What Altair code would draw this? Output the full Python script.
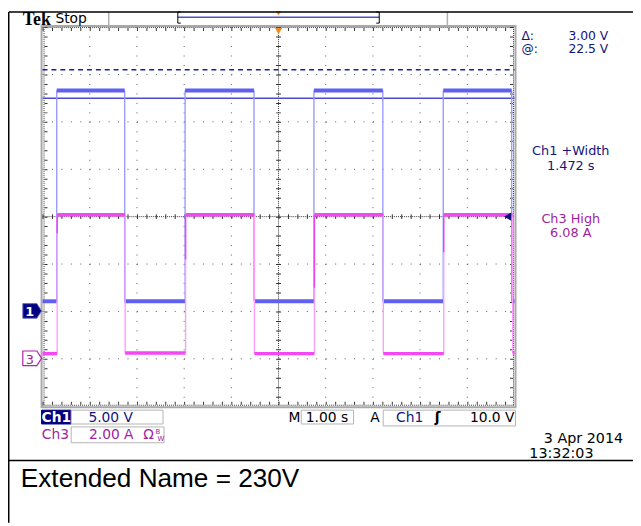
import altair as alt
import pandas as pd

# ---------------- data ----------------
# time axis: 1.00 s/div, 10 divisions, trigger at centre (seconds)
ch1_edges = [-4.70, -3.26, -1.98, -0.52, 0.75, 2.21, 3.49, 4.94]
ch1_levels = [1.07, 23.3, 1.07, 23.3, 1.07, 23.3, 1.07, 23.3, 1.07]   # volts
ch3_edges = [-4.69, -3.25, -1.97, -0.51, 0.76, 2.22, 3.50, 4.96]
ch3_levels = [0.22, 6.08, 0.25, 6.08, 0.22, 6.08, 0.22, 6.08, 0.25]  # amps
ch3_rise_knee = [5.3, 4.2, 3.0, 4.5]                                   # amps
cursor_volts = [22.5, 25.5]       # @: 22.5 V, delta 3.00 V
trigger_volts = 10.0
ch1_scale, ch1_offset_div = 5.0, -2.0   # 5.00 V/div, ground marker 2 div below centre
ch3_scale, ch3_offset_div = 2.0, -3.0   # 2.00 A/div, ground marker 3 div below centre
vgrid = [-4, -3, -2, -1, 1, 2, 3, 4]
hgrid = [-3, -2, -1, 1, 2, 3]

W, H = 633, 518
def P(v):
    # page pixel -> chart pixel (page has an 8px margin)
    return max(v - 8, 0.75)

X = alt.Scale(domain=[-5, 5], range=[P(43), P(521)], nice=False, zero=False)
Y = alt.Scale(domain=[-4, 4], range=[P(408), P(24)], nice=False, zero=False)

one = alt.Data(values=[{}])
layers = []

def txt(s, x, y, size=14, color="black", font="DejaVu Sans", weight="normal", align="left"):
    return alt.Chart(one).mark_text(text=s, fontSize=size, color=color, font=font,
                                    fontWeight=weight, align=align, baseline="alphabetic"
                                    ).encode(x=alt.value(P(x)), y=alt.value(P(y)))

def hline(x1, x2, y, color="black", width=1.0, dash=None):
    kw = dict(color=color, strokeWidth=width)
    if dash:
        kw["strokeDash"] = dash
    return alt.Chart(one).mark_rule(**kw).encode(x=alt.value(P(x1)), x2=alt.value(P(x2)), y=alt.value(P(y)))

def vline(x, y1, y2, color="black", width=1.0, dash=None):
    kw = dict(color=color, strokeWidth=width)
    if dash:
        kw["strokeDash"] = dash
    return alt.Chart(one).mark_rule(**kw).encode(x=alt.value(P(x)), y=alt.value(P(y1)), y2=alt.value(P(y2)))

def box(x1, x2, y1, y2, fill="white", stroke="#b4b4b4", sw=1.0):
    return alt.Chart(one).mark_rect(fill=fill, stroke=stroke, strokeWidth=sw).encode(
        x=alt.value(P(x1)), x2=alt.value(P(x2)), y=alt.value(P(y1)), y2=alt.value(P(y2)))

# ---------------- scope frame & graticule ----------------
layers.append(box(42, 522, 23, 409, fill="white", stroke="#a8a8a8", sw=2))

vg = pd.DataFrame({"t": vgrid})
layers.append(alt.Chart(vg).mark_rule(color="#555555", strokeWidth=1, strokeDash=[1, 8.6]).encode(
    x=alt.X("t:Q", scale=X, axis=None), y=alt.value(P(24)), y2=alt.value(P(408))))
hg = pd.DataFrame({"d": hgrid})
layers.append(alt.Chart(hg).mark_rule(color="#555555", strokeWidth=1, strokeDash=[1, 8.56]).encode(
    y=alt.Y("d:Q", scale=Y, axis=None), x=alt.value(P(43)), x2=alt.value(P(521))))

cz = pd.DataFrame({"z": [0]})
# centre cross: dense dots + minor ticks
layers.append(alt.Chart(cz).mark_rule(color="#333333", strokeWidth=1, strokeDash=[1, 1]).encode(
    x=alt.X("z:Q", scale=X, axis=None), y=alt.value(P(24)), y2=alt.value(P(408))))
layers.append(alt.Chart(cz).mark_rule(color="#333333", strokeWidth=5, strokeDash=[1, 8.6]).encode(
    x=alt.X("z:Q", scale=X, axis=None), y=alt.value(P(24)), y2=alt.value(P(408))))
layers.append(alt.Chart(cz).mark_rule(color="#333333", strokeWidth=1, strokeDash=[1, 1]).encode(
    y=alt.Y("z:Q", scale=Y, axis=None), x=alt.value(P(43)), x2=alt.value(P(521))))
layers.append(alt.Chart(cz).mark_rule(color="#333333", strokeWidth=5, strokeDash=[1, 8.56]).encode(
    y=alt.Y("z:Q", scale=Y, axis=None), x=alt.value(P(43)), x2=alt.value(P(521))))

# border ticks
layers.append(hline(43, 521, 24.5, "#333333", 1, [1, 1]))
layers.append(hline(43, 521, 26.5, "#333333", 3, [1, 8.56]))
layers.append(hline(43, 521, 407, "#333333", 1, [1, 1]))
layers.append(hline(43, 521, 405, "#333333", 3, [1, 8.56]))
layers.append(vline(44.5, 24, 408, "#333333", 1, [1, 1]))
layers.append(vline(46.5, 24, 408, "#333333", 3, [1, 8.6]))
layers.append(vline(520, 24, 408, "#333333", 1, [1, 1]))
layers.append(vline(518, 24, 408, "#333333", 3, [1, 8.6]))

# ---------------- cursors ----------------
cur = pd.DataFrame({"v": cursor_volts, "k": ["solid", "dash"]})
cur_calc = alt.Chart(cur).transform_calculate(d=f"datum.v/{ch1_scale} + ({ch1_offset_div})")
layers.append(cur_calc.transform_filter("datum.k == 'solid'").mark_rule(color="#4a4ad2", strokeWidth=1.5).encode(
    y=alt.Y("d:Q", scale=Y, axis=None), x=alt.value(P(43)), x2=alt.value(P(521))))
layers.append(cur_calc.transform_filter("datum.k == 'dash'").mark_rule(color="#1c1ca8", strokeWidth=1.5, strokeDash=[5, 4]).encode(
    y=alt.Y("d:Q", scale=Y, axis=None), x=alt.value(P(43)), x2=alt.value(P(521))))

# ---------------- traces ----------------
def segments(edges, levels):
    bounds = [-5.0] + list(edges) + [5.0]
    lv = pd.DataFrame({"t0": bounds[:-1], "t1": bounds[1:], "v": levels})
    ed = pd.DataFrame({"t": edges, "v0": levels[:-1], "v1": levels[1:]})
    return lv, ed

c1_lv, c1_ed = segments(ch1_edges, ch1_levels)
c3_lv, c3_ed = segments(ch3_edges, ch3_levels)
c3_knee = pd.DataFrame({"t": ch3_edges[0::2], "v0": ch3_rise_knee, "v1": ch3_levels[1::2]})

def lv_layer(df, scale, off, color, width):
    return alt.Chart(df).transform_calculate(d=f"datum.v/{scale} + ({off})").mark_rule(
        color=color, strokeWidth=width).encode(
        x=alt.X("t0:Q", scale=X, axis=None), x2="t1:Q", y=alt.Y("d:Q", scale=Y, axis=None))

def ed_layer(df, scale, off, color, width):
    return alt.Chart(df).transform_calculate(
        d0=f"datum.v0/{scale} + ({off})", d1=f"datum.v1/{scale} + ({off})").mark_rule(
        color=color, strokeWidth=width).encode(
        x=alt.X("t:Q", scale=X, axis=None), y=alt.Y("d0:Q", scale=Y, axis=None), y2="d1:Q")

layers.append(ed_layer(c1_ed, ch1_scale, ch1_offset_div, "#9a9aff", 1.4))
layers.append(lv_layer(c1_lv, ch1_scale, ch1_offset_div, "#6060f0", 4))
layers.append(ed_layer(c3_ed, ch3_scale, ch3_offset_div, "#ff9cff", 1.4))
layers.append(ed_layer(c3_knee, ch3_scale, ch3_offset_div, "#f040f0", 1.4))
layers.append(lv_layer(c3_lv, ch3_scale, ch3_offset_div, "#f548f5", 3.5))

# trigger level marker (right edge)
tl = pd.DataFrame({"v": [trigger_volts]})
layers.append(alt.Chart(tl).transform_calculate(d=f"datum.v/{ch1_scale} + ({ch1_offset_div})").mark_point(
    shape="triangle-left", filled=True, color="#10107a", size=70, opacity=1).encode(
    y=alt.Y("d:Q", scale=Y, axis=None), x=alt.value(P(514))))

# channel ground markers
arrow = "M-1,-0.78 L0.5,-0.78 L1,0 L0.5,0.78 L-1,0.78 Z"
layers.append(alt.Chart(one).mark_point(shape=arrow, filled=True, fill="#000080", stroke="#7070c0",
                                        strokeWidth=1, size=361, opacity=1).encode(
    x=alt.value(P(32.5)), y=alt.value(P(311.5))))
layers.append(txt("1", 30, 317, 13, "white", weight="bold", align="center"))
layers.append(alt.Chart(one).mark_point(shape=arrow, filled=True, fill="white", stroke="#b020b0",
                                        strokeWidth=1.2, size=361, opacity=1).encode(
    x=alt.value(P(32.5)), y=alt.value(P(359.5))))
layers.append(txt("3", 30, 365, 13, "#a01ea0", align="center"))

# trigger position markers
layers.append(alt.Chart(one).mark_point(shape="triangle-down", filled=True, color="#f08a24", size=55, opacity=1).encode(
    x=alt.value(P(282)), y=alt.value(P(28))))

# ---------------- header ----------------
layers.append(txt("Tek", 23, 22, 18, "black", font="Liberation Serif", weight="bold"))
layers.append(txt("Stop", 56, 20, 14, "black"))
layers.append(vline(110, 5, 22, "#b0b0b0", 1.5))
layers.append(vline(453, 5, 22, "#b0b0b0", 1.5))
layers.append(hline(180, 384, 14, "#5050c8", 1.5))
layers.append(vline(180, 7, 20, "black", 1))
layers.append(hline(180, 183, 7, "black", 1))
layers.append(hline(180, 183, 20, "black", 1))
layers.append(vline(384, 7, 20, "black", 1))
layers.append(hline(381, 384, 7, "black", 1))
layers.append(hline(381, 384, 20, "black", 1))
layers.append(alt.Chart(one).mark_point(shape="triangle-down", filled=True, color="#f08a24", size=30, opacity=1).encode(
    x=alt.value(P(282)), y=alt.value(P(10))))

# ---------------- right-hand readouts ----------------
navy = "#14147e"
purple = "#a01ea0"
layers.append(txt("\u0394:", 528, 37.5, 12.5, navy))
layers.append(txt("3.00 V", 616, 37.5, 12.5, navy, align="right"))
layers.append(txt("@:", 528, 50.5, 12.5, navy))
layers.append(txt("22.5 V", 616, 50.5, 12.5, navy, align="right"))
layers.append(txt("Ch1 +Width", 578, 154, 13, navy, align="center"))
layers.append(txt("1.472 s", 578, 169, 13, navy, align="center"))
layers.append(txt("Ch3 High", 578, 222, 13, purple, align="center"))
layers.append(txt("6.08 A", 578, 237, 13, purple, align="center"))

# ---------------- bottom status ----------------
layers.append(box(42, 72, 412, 426, fill="#000080", stroke="#000080"))
layers.append(txt("Ch1", 57, 424, 14, "white", weight="bold", align="center"))
layers.append(box(72, 165, 412, 426))
layers.append(txt("5.00 V", 112, 424, 14, navy, align="center"))
layers.append(txt("Ch3", 56, 441, 14, purple, align="center"))
layers.append(box(72, 166, 429, 445))
layers.append(txt("2.00 A", 90, 441, 14, purple))
layers.append(txt("\u03a9", 145, 441, 14, purple))
layers.append(txt("B", 157.5, 436, 7, purple))
layers.append(txt("W", 159.5, 443, 7, purple))
layers.append(txt("M", 292, 424, 14, "black"))
layers.append(box(305, 358, 412, 426))
layers.append(txt("1.00 s", 331, 424, 14, "black", align="center"))
layers.append(txt("A", 375, 424, 14, "black"))
layers.append(box(388, 522, 412, 428))
layers.append(txt("Ch1", 401, 424, 14, navy))
layers.append(txt("\u0283", 443, 424, 14, "black", weight="bold", align="center"))
layers.append(txt("10.0 V", 521, 424, 14, "black", align="right"))
layers.append(txt("3 Apr  2014", 631, 445, 14.5, "black", align="right"))
layers.append(txt("13:32:03", 536, 460, 14.5, "black"))

# ---------------- outer frame ----------------
layers.append(vline(5, 5, 526, "black", 1.5))
layers.append(hline(5, 641, 5, "black", 1.5))
layers.append(hline(5, 641, 463, "black", 1.5))
layers.append(txt("Extended Name = 230V", 21, 490, 26.5, "black", font="Liberation Sans"))

chart = alt.layer(*layers).properties(
    width=W, height=H, autosize=alt.AutoSizeParams(type="none"), padding=0, background="white"
).configure_view(stroke=None)

chart.save("out.html", embed_options={"renderer": "svg", "actions": False})
